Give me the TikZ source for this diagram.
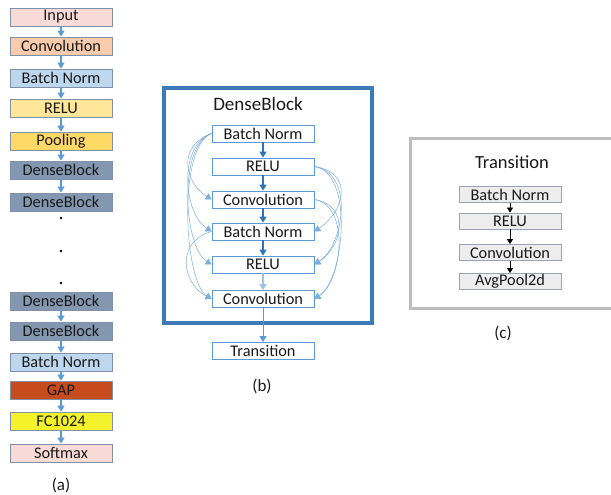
\documentclass[tikz,border=0pt]{standalone}
\usepackage{fontspec}
\setmainfont{Carlito}
\usepackage{xcolor}
\usetikzlibrary{arrows.meta,positioning,calc}

\definecolor{edgegray}{HTML}{8090A8}
\definecolor{arrblue}{HTML}{5B9BD5}
\definecolor{darkblue}{HTML}{2E75B6}
\definecolor{paleblue}{HTML}{9DC3E6}
\definecolor{frameblue}{HTML}{3D7AB8}
\definecolor{framegray}{HTML}{BDBDBD}
\definecolor{inpfill}{HTML}{F8DBD6}
\definecolor{convfill}{HTML}{F8CBAD}
\definecolor{bnfill}{HTML}{BDD7EE}
\definecolor{relufill}{HTML}{FFE699}
\definecolor{poolfill}{HTML}{FFD966}
\definecolor{dbfill}{HTML}{8497B0}
\definecolor{gapfill}{HTML}{C84B1E}
\definecolor{fcfill}{HTML}{F4F22A}
\definecolor{trfill}{HTML}{EDEDED}
\definecolor{trborder}{HTML}{9AA3B5}

\begin{document}
\begin{tikzpicture}[x=1pt, y=-1pt,
    every node/.style={font=\fontsize{16.3}{18}\selectfont, text=black!90, inner sep=0pt},
    layer/.style={draw=edgegray, line width=0.8pt, minimum width=102pt, minimum height=18pt},
    dblayer/.style={draw=arrblue, line width=0.8pt, fill=white, minimum width=102pt, minimum height=17pt},
    trlayer/.style={draw=trborder, line width=0.8pt, fill=trfill, minimum width=102pt, minimum height=16pt},
    flow/.style={arrblue, line width=1.2pt, -{Triangle[length=6pt,width=7pt]}},
    skip/.style={arrblue!80, line width=0.5pt, -{Triangle[length=6pt,width=7pt]}},
    title/.style={font=\fontsize{19}{22}\selectfont},
    caption/.style={font=\fontsize{17}{20}\selectfont}]
    \clip (0,0) rectangle (611,495);

    % (a) full network
    \node[layer, fill=inpfill]  (inp)  at (61,17)  {Input};
    \node[layer, fill=convfill] (conv) at (61,46)  {Convolution};
    \node[layer, fill=bnfill]   (bn)   at (61,78)  {Batch Norm};
    \node[layer, fill=relufill] (relu) at (61,108) {RELU};
    \node[layer, fill=poolfill] (pool) at (61,141) {Pooling};
    \node[layer, fill=dbfill]   (dbA)  at (61,170) {DenseBlock};
    \node[layer, fill=dbfill]   (dbB)  at (61,202) {DenseBlock};
    \node[layer, fill=dbfill]   (dbC)  at (61,301) {DenseBlock};
    \node[layer, fill=dbfill]   (dbD)  at (61,331) {DenseBlock};
    \node[layer, fill=bnfill]   (bnF)  at (61,362) {Batch Norm};
    \node[layer, fill=gapfill]  (gap)  at (61,390) {GAP};
    \node[layer, fill=fcfill]   (fc)   at (61,421) {FC1024};
    \node[layer, fill=inpfill]  (soft) at (61,453) {Softmax};
    \foreach \a/\b in {inp/conv, conv/bn, bn/relu, relu/pool, pool/dbA, dbA/dbB,
                       dbC/dbD, dbD/bnF, bnF/gap, gap/fc, fc/soft}
        \draw[flow] (\a.south) -- (\b.north);
    \foreach \y in {218,251,283}
        \fill (61,\y) circle (1.3);
    \node[caption] (capA) at (61,485) {(a)};

    % (b) dense block
    \draw[frameblue, line width=4pt] (164,88) rectangle (372,323);
    \node[title] (dbtitle) at (258,104) {DenseBlock};
    \node[dblayer] (b1) at (263,133.5) {Batch Norm};
    \node[dblayer] (r1) at (263,166.5) {RELU};
    \node[dblayer] (c1) at (263,199.5) {Convolution};
    \node[dblayer] (b2) at (263,231.5) {Batch Norm};
    \node[dblayer] (r2) at (263,264.5) {RELU};
    \node[dblayer] (c2) at (263,299)   {Convolution};
    \node[dblayer] (trans) at (263,351) {Transition};
    \foreach \a/\b in {b1/r1, r1/c1, c1/b2, b2/r2}
        \draw[flow, darkblue] (\a.south) -- (\b.north);
    \draw[flow, paleblue] (r2.south) -- (c2.north);
    \draw[flow, line width=0.7pt] (c2.south) -- (trans.north);

    % skip connections, left side
    \foreach \t in {c1, b2, r2, c2}
        \draw[skip] (b1.west) .. controls +(-34,12) and +(-28,-18) .. (\t.west);
    \draw[skip] (b2.west) .. controls +(-36,10) and +(-30,-16) .. (c2.west);
    % skip connections, right side
    \foreach \t in {b2, r2, c2}
        \draw[skip] (r1.east) .. controls +(40,6) and +(30,-20) .. (\t.east);
    \foreach \t in {r2, c2}
        \draw[skip] (c1.east) .. controls +(36,6) and +(28,-18) .. (\t.east);
    \node[caption] (capB) at (262,386) {(b)};

    % (c) transition layer
    \draw[framegray, line width=3pt] (410,138) rectangle (640,308);
    \node[title, font=\fontsize{18.5}{22}\selectfont] (trtitle) at (512,162) {Transition};
    \node[trlayer] (tb) at (510,194.5) {Batch Norm};
    \node[trlayer] (tr) at (510,221)   {RELU};
    \node[trlayer] (tc) at (510,252.5) {Convolution};
    \node[trlayer] (ta) at (510,281.5) {AvgPool2d};
    \foreach \a/\b in {tb/tr, tr/tc, tc/ta}
        \draw[black, line width=0.7pt, -{Triangle[length=5pt,width=6pt]}] (\a.south) -- (\b.north);
    \node[caption] (capC) at (503,333) {(c)};
\end{tikzpicture}
\end{document}
